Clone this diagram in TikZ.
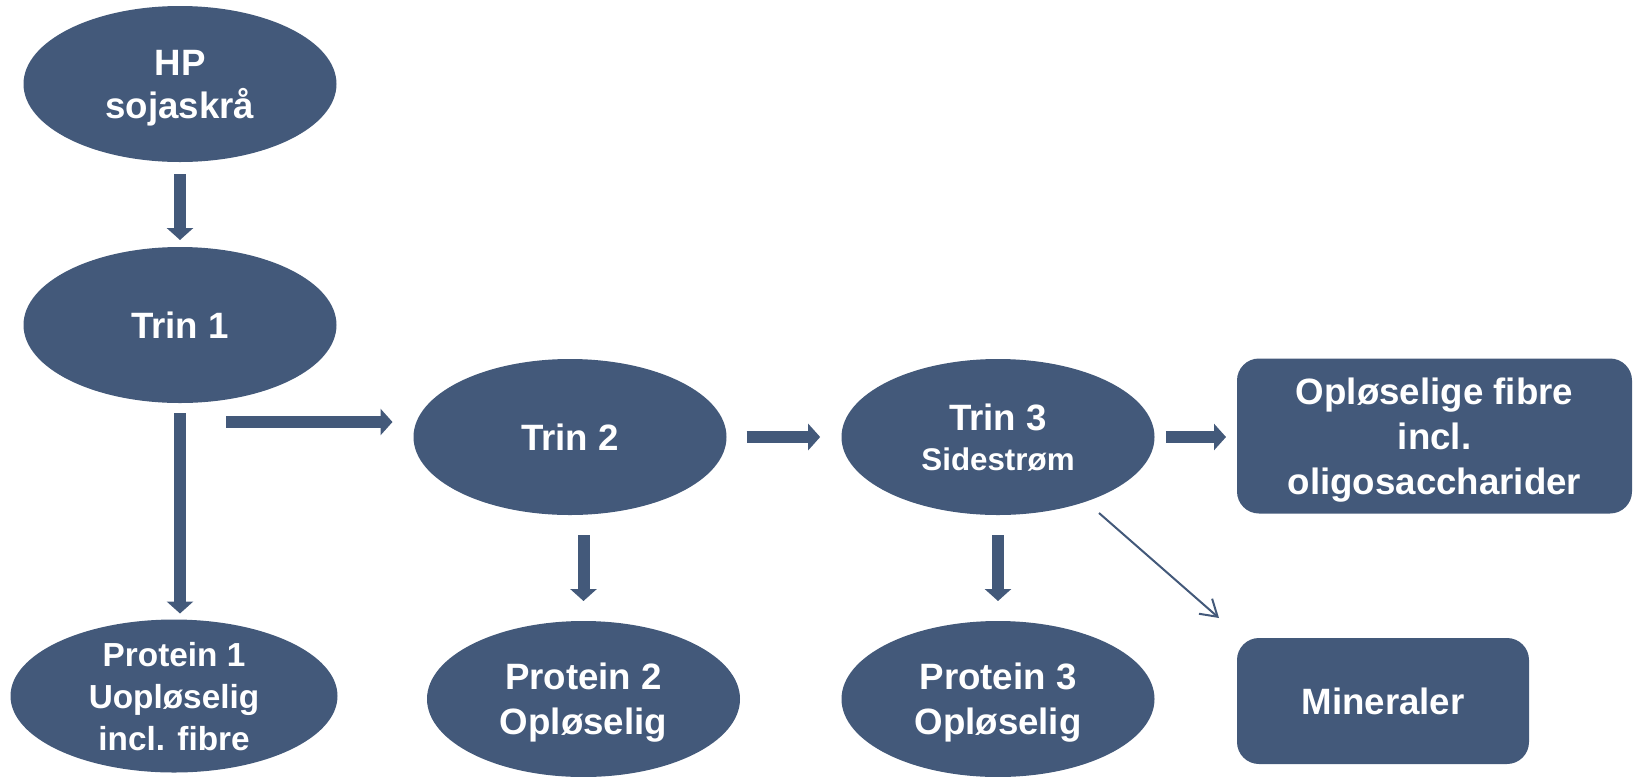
\documentclass[tikz,border=0pt]{standalone}
\usepackage{fontspec}
\setmainfont{Liberation Sans}
\usetikzlibrary{shapes.geometric,arrows.meta,calc}
\definecolor{boxblue}{RGB}{67,89,122}

\tikzset{every picture/.style={line width=0.75pt}}
\tikzset{
  stage/.style={ellipse, fill=boxblue, text=white, align=center, inner sep=0pt, outer sep=0pt,
    minimum width=234.75pt, minimum height=117pt, text depth=0pt,
    font=\bfseries\fontsize{27.5}{33.75}\selectfont},
  product/.style={rectangle, rounded corners=16.5pt, fill=boxblue, text=white, align=center,
    inner sep=0pt, outer sep=0pt, text depth=0pt,
    font=\bfseries\fontsize{27.5}{33.75}\selectfont},
  blockarrow/.style={draw=boxblue, line width=9pt, -{Triangle[length=9pt,width=19.5pt]}},
  thinarrow/.style={draw=boxblue, line width=1.5pt, -{Straight Barb[length=12pt,width=15pt]}}
}

\begin{document}
\begin{tikzpicture}[x=0.75pt,y=0.75pt,yscale=-1,xscale=1]
\useasboundingbox (0,0) rectangle (1635,776);

%Shape: Ellipse
\draw (180,84) node [stage, font=\bfseries\fontsize{27.5}{32.25}\selectfont] (hp) {HP\\sojaskrå};
%Shape: Ellipse
\draw (180,325) node [stage] (trin1) {Trin 1};
%Shape: Ellipse
\draw (570,437) node [stage] (trin2) {Trin 2};
%Shape: Ellipse
\draw (998,437) node [stage, font=\bfseries\fontsize{27.5}{30}\selectfont] (trin3) {Trin 3\\{\fontsize{23.5}{30}\selectfont Sidestrøm}};
%Shape: Ellipse
\draw (174,696) node [stage, minimum width=245.25pt, minimum height=114.75pt, font=\bfseries\fontsize{25}{31.5}\selectfont] (prot1) {Protein 1\\Uopløselig\\incl. fibre};
%Shape: Ellipse
\draw (583.5,699) node [stage] (prot2) {Protein 2\\Opløselig};
%Shape: Ellipse
\draw (998,699) node [stage] (prot3) {Protein 3\\Opløselig};
%Shape: Rounded Rect
\draw (1434.5,436) node [product, minimum width=296.25pt, minimum height=116.25pt] (opl) {Opløselige fibre\\incl.\\oligosaccharider};
%Shape: Rounded Rect
\draw (1383,701) node [product, minimum width=219pt, minimum height=94.5pt] (miner) {Mineraler};

%Straight Lines
\draw [blockarrow, shorten <=9pt, shorten >=5.25pt] (hp.south) -- (trin1.north);
%Straight Lines
\draw [blockarrow, shorten <=7.5pt, shorten >=4.5pt] (trin1.south) -- (trin1.south |- prot1.north);
%Straight Lines
\draw [blockarrow] ($(trin1.south)+(46,19)$) -- ($(trin2.west)+(-21,-15)$);
%Straight Lines
\draw [blockarrow, shorten <=15pt, shorten >=16pt] (trin2.east) -- (trin3.west);
%Straight Lines
\draw [blockarrow, shorten <=8.6pt, shorten >=8.25pt] (trin3.east) -- (trin3.east -| opl.west);
%Straight Lines
\draw [blockarrow, shorten <=15pt, shorten >=15pt] (trin2.south -| prot2.north) -- (prot2.north);
%Straight Lines
\draw [blockarrow, shorten <=15pt, shorten >=15pt] (trin3.south) -- (prot3.north);
%Straight Lines
\draw [thinarrow] ($(trin3.center)+(101,76)$) -- ($(miner.north west)+(-18,-20)$);

\end{tikzpicture}
\end{document}
